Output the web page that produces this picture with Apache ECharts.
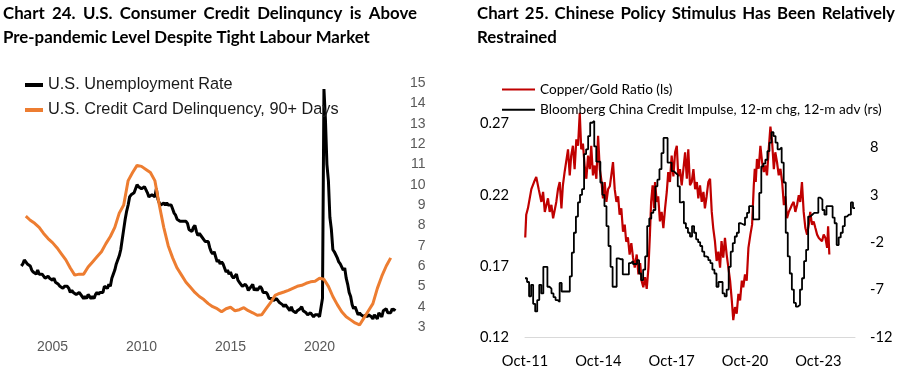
<!DOCTYPE html>
<html><head><meta charset="utf-8">
<script src="https://cdn.jsdelivr.net/npm/echarts@6/dist/echarts.min.js"></script>
<style>html,body{margin:0;padding:0;background:#fff}#c{width:907px;height:380px}</style>
</head><body><div id="c"></div>
<script>
// ---------- Chart 24 data ----------
const leftTitle1 = "Chart 24. U.S. Consumer Credit Delinquncy is Above";
const leftTitle2 = "Pre-pandemic Level Despite Tight Labour Market";
const leftNames = ["U.S. Unemployment Rate", "U.S. Credit Card Delinquency, 90+ Days"];
const leftXTicks = [2005, 2010, 2015, 2020];
// monthly, Apr-2003 .. Apr-2024
const unempStart = 2003.25;
const unemp = [
 6.0,6.1,6.3,6.2,6.1,6.1,6.0,5.8,5.7,
 5.7,5.6,5.8,5.6,5.6,5.6,5.5,5.4,5.4,5.5,5.4,5.4,
 5.3,5.4,5.2,5.2,5.1,5.0,5.0,4.9,5.0,5.0,5.0,4.9,
 4.7,4.8,4.7,4.7,4.6,4.6,4.7,4.7,4.5,4.4,4.5,4.4,
 4.6,4.5,4.4,4.5,4.4,4.6,4.7,4.6,4.7,4.7,4.7,5.0,
 5.0,4.9,5.1,5.0,5.4,5.6,5.8,6.1,6.1,6.5,6.8,7.3,
 7.8,8.3,8.7,9.0,9.4,9.5,9.5,9.6,9.8,10.0,9.9,9.9,
 9.8,9.8,9.9,9.9,9.6,9.4,9.4,9.5,9.5,9.4,9.8,9.3,
 9.1,9.0,9.0,9.1,9.0,9.1,9.0,9.0,9.0,8.8,8.6,8.5,
 8.3,8.3,8.2,8.2,8.2,8.2,8.2,8.1,7.8,7.8,7.7,7.9,
 8.0,7.7,7.5,7.6,7.5,7.5,7.3,7.2,7.2,7.2,6.9,6.7,
 6.6,6.7,6.7,6.2,6.3,6.1,6.2,6.1,5.9,5.7,5.8,5.6,
 5.7,5.5,5.4,5.4,5.6,5.3,5.2,5.1,5.0,5.0,5.1,5.0,
 4.8,4.9,5.0,5.1,4.8,4.9,4.8,4.9,5.0,4.9,4.7,4.7,
 4.7,4.6,4.4,4.4,4.4,4.3,4.3,4.4,4.3,4.2,4.2,4.1,
 4.0,4.1,4.0,4.0,3.8,4.0,3.8,3.8,3.7,3.8,3.8,3.9,
 4.0,3.8,3.8,3.7,3.6,3.6,3.7,3.6,3.5,3.6,3.6,3.6,
 3.5,3.5,4.4,14.7,13.2,11.0,10.2,8.4,7.8,6.8,6.7,6.7,
 6.4,6.2,6.1,6.1,5.8,5.9,5.4,5.1,4.7,4.5,4.1,3.9,
 4.0,3.8,3.6,3.7,3.6,3.6,3.5,3.6,3.5,3.6,3.6,3.5,
 3.4,3.6,3.5,3.4,3.7,3.6,3.5,3.8,3.8,3.9,3.7,3.7,
 3.7,3.9,3.8,3.9
];
// quarterly, 2003.5 .. 2024.0
const delinqStart = 2003.5;
const delinq = [
 8.45,8.25,8.1,7.9,7.6,7.35,7.15,6.9,6.6,6.3,5.9,5.55,5.6,5.6,5.95,6.2,6.45,6.7,7.1,7.45,
 7.9,8.6,9.0,10.2,10.6,10.95,10.9,10.75,10.6,10.2,9.0,7.9,7.0,6.4,5.9,5.55,5.2,4.95,4.7,4.5,
 4.35,4.15,4.0,3.9,3.75,3.9,3.97,3.8,3.85,3.95,3.8,3.7,3.58,3.6,3.9,4.2,4.55,4.65,4.72,4.8,
 4.9,5.0,5.05,5.15,5.22,5.25,5.4,5.35,5.0,4.5,4.1,3.75,3.5,3.35,3.2,3.1,3.45,3.8,4.15,4.9,
 5.5,6.0,6.4
];

// ---------- Chart 25 data ----------
const rightTitle1 = "Chart 25. Chinese Policy Stimulus Has Been Relatively";
const rightTitle2 = "Restrained";
const rightNames = ["Copper/Gold Ratio (ls)", "Bloomberg China Credit Impulse, 12-m chg, 12-m adv (rs)"];
const rightXTickDates = [2011.75, 2014.75, 2017.75, 2020.75, 2023.75];
const rightXTickLabels = ["Oct-11", "Oct-14", "Oct-17", "Oct-20", "Oct-23"];
const rightLeftTicks = [0.12, 0.17, 0.22, 0.27];
const rightRightTicks = [-12, -7, -2, 3, 8];
const redDates = [
 2011.76,2011.80,2011.87,2012.01,2012.12,2012.21,2012.31,2012.42,2012.49,2012.56,
 2012.69,2012.76,2012.83,2012.90,2013.03,2013.10,2013.17,2013.24,2013.30,2013.37,
 2013.51,2013.58,2013.64,2013.71,2013.78,2013.85,2013.92,2013.99,2014.05,2014.12,
 2014.19,2014.26,2014.33,2014.40,2014.46,2014.53,2014.60,2014.67,2014.74,2014.81,
 2014.87,2014.94,2015.01,2015.08,2015.15,2015.22,2015.28,2015.35,2015.42,2015.49,
 2015.56,2015.62,2015.69,2015.76,2015.83,2015.89,2015.96,2016.03,2016.10,2016.17,
 2016.24,2016.32,2016.39,2016.46,2016.52,2016.59,2016.66,2016.73,2016.80,2016.86,
 2016.91,2016.97,2017.03,2017.07,2017.14,2017.20,2017.27,2017.34,2017.41,2017.48,
 2017.55,2017.61,2017.68,2017.75,2017.82,2017.89,2017.96,2018.02,2018.09,2018.16,
 2018.23,2018.30,2018.37,2018.43,2018.50,2018.57,2018.64,2018.71,2018.78,2018.84,
 2018.91,2018.98,2019.05,2019.11,2019.18,2019.25,2019.32,2019.39,2019.45,2019.52,
 2019.59,2019.66,2019.73,2019.79,2019.86,2019.93,2020.00,2020.07,2020.14,2020.21,
 2020.27,2020.34,2020.41,2020.48,2020.55,2020.62,2020.68,2020.75,2020.82,2020.89,
 2020.97,2021.04,2021.11,2021.15,2021.19,2021.24,2021.31,2021.38,2021.45,2021.52,
 2021.58,2021.65,2021.72,2021.79,2021.86,2021.93,2021.99,2022.06,2022.13,2022.20,
 2022.27,2022.34,2022.40,2022.47,2022.54,2022.61,2022.67,2022.74,2022.81,2022.88,
 2022.95,2023.01,2023.08,2023.15,2023.22,2023.29,2023.36,2023.42,2023.49,2023.56,
 2023.63,2023.70,2023.77,2023.90,2023.97,2024.04,2024.11,2024.15,2024.20
];
const copperGold = [
 0.190,0.206,0.2105,0.224,0.229,0.2325,0.224,0.215,0.222,0.208,
 0.2175,0.208,0.213,0.2035,0.215,0.224,0.229,0.2105,0.2267,0.236,
 0.252,0.2337,0.2476,0.2545,0.238,0.259,0.2545,0.2776,0.252,0.256,
 0.2406,0.2313,0.2476,0.238,0.2545,0.2337,0.2406,0.2313,0.2615,0.238,
 0.231,0.2175,0.229,0.215,0.224,0.226,0.2337,0.243,0.224,0.215,
 0.219,0.206,0.2105,0.194,0.199,0.187,0.19,0.178,0.186,0.1758,
 0.1688,0.178,0.164,0.172,0.1596,0.155,0.162,0.1538,0.1688,0.192,
 0.215,0.2267,0.2105,0.229,0.215,0.219,0.2013,0.208,0.1966,0.2105,
 0.222,0.236,0.229,0.2476,0.233,0.2499,0.2545,0.233,0.238,0.2267,
 0.238,0.2499,0.2313,0.252,0.2267,0.229,0.238,0.224,0.229,0.2175,
 0.2267,0.215,0.222,0.2105,0.219,0.229,0.2313,0.208,0.1966,0.1874,
 0.1735,0.180,0.1688,0.1874,0.1758,0.1897,0.178,0.1688,0.1596,0.1457,
 0.1318,0.141,0.1364,0.1503,0.1457,0.1596,0.155,0.164,0.1596,0.1827,
 0.192,0.199,0.2267,0.2383,0.229,0.2452,0.2383,0.2545,0.2429,0.236,
 0.2406,0.2337,0.252,0.268,0.257,0.238,0.2499,0.2429,0.2337,0.2383,
 0.229,0.2128,0.219,0.2035,0.208,0.2105,0.213,0.215,0.208,0.2128,
 0.2198,0.215,0.229,0.208,0.1966,0.192,0.199,0.208,0.199,0.2013,
 0.1966,0.192,0.1897,0.1874,0.192,0.1897,0.1827,0.1978,0.178
];
// monthly from Oct-2011
const impulseStart = 2011.75;
const impulse = [
 -5.8,-6.2,-7.7,-6.5,-8.5,-9.3,-8.1,-6.5,-7.4,-4.6,-4.6,-6.7,
 -6.9,-7.4,-7.8,-8.1,-8.3,-6.3,-7.2,-7.2,-7.2,-7.2,-5.6,-3.1,
 -1.0,0.7,2.2,3.0,3.6,7.3,7.8,9.2,10.6,10.8,8.1,6.5,
 6.5,4.3,3.0,1.8,-0.3,-2.4,-4.6,-6.7,-6.7,-3.7,-3.8,-3.8,
 -5.4,-5.4,-5.4,-4.2,-4.0,-4.3,-4.3,-3.9,-5.3,-6.0,-4.9,-3.5,
 -0.3,0.5,1.1,1.4,3.9,4.6,5.7,7.4,9.0,9.0,6.4,6.4,
 5.5,5.3,5.1,3.9,2.2,2.3,0.0,-0.5,-1.0,-1.4,-0.3,-1.0,
 -1.7,-2.0,-2.4,-3.0,-3.5,-3.6,-3.9,-4.2,-4.9,-5.3,-6.7,-6.2,
 -6.2,-7.4,-7.7,-7.0,-4.6,-3.0,-2.1,-1.4,-1.0,0.0,-0.1,-0.2,
 0.6,1.1,1.8,1.8,0.4,0.4,0.4,3.2,6.0,6.3,6.7,7.6,
 8.5,9.6,9.2,8.5,7.8,8.0,6.4,4.3,-1.0,-3.5,-5.3,-7.0,
 -8.4,-8.8,-8.6,-7.0,-5.8,-4.0,-2.8,0.7,0.9,1.1,1.1,1.1,
 2.7,2.5,1.4,0.9,1.8,1.8,1.8,0.6,0.0,-2.3,-1.5,-1.0,
 -0.3,0.7,0.9,0.9,2.2,1.6,1.6
];

// ---------- helpers ----------
const mctx = document.createElement('canvas').getContext('2d');
function textW(t, font){ mctx.font = font; return mctx.measureText(t).width; }
function fit(t, weight, fam, target){ return 20 * target / textW(t, weight + ' 20px ' + fam); }
function justify(line, x0, x1, y, font){
  const words = line.split(' ');
  const ws = words.map(w => textW(w, font));
  const gap = (x1 - x0 - ws.reduce((a,b)=>a+b,0)) / (words.length - 1);
  let x = x0; const out = [];
  words.forEach((w,i) => { out.push({type:'text', x:x, y:y, silent:true,
    style:{text:w, font:font, fill:'#000', verticalAlign:'middle', textVerticalAlign:'middle'}}); x += ws[i] + gap; });
  return out;
}
function plain(t, x, y, font){ return {type:'text', x:x, y:y, silent:true, style:{text:t, font:font, fill:'#000', verticalAlign:'middle', textVerticalAlign:'middle'}}; }

const TF = "'Lato'";
const titleSize = fit(leftTitle2, 'bold', TF, 367);
const titleFont = 'bold ' + titleSize.toFixed(2) + 'px ' + TF;
const rLabSize = fit('0.27', 'normal', TF, 29);
const rLegSize = fit(rightNames[1], 'normal', TF, 342);

const graphics = [].concat(
  justify(leftTitle1, 3, 417, 14, titleFont),
  [plain(leftTitle2, 3, 38, titleFont)],
  justify(rightTitle1, 477, 895, 14, titleFont),
  [plain(rightTitle2, 477, 38, titleFont)]
);

const unempData = unemp.map((v,i) => [unempStart + i/12, v]);
const delinqData = delinq.map((v,i) => [delinqStart + i*0.25, v]);
const redData = redDates.map((d,i) => [d, copperGold[i]]);
const impData = impulse.map((v,i) => [impulseStart + i/12, v]);

const leftLab = {fontFamily:"'Liberation Sans', Arial", fontSize:14, color:'#595959'};
const rightLab = {fontFamily:TF, fontSize:rLabSize, color:'#000'};

const chart = echarts.init(document.getElementById('c'), null, {renderer:'canvas'});
chart.setOption({
  animation:false,
  backgroundColor:'#fff',
  graphic: graphics,
  legend:[
    {data:leftNames, left:20, top:70, orient:'vertical', icon:'rect', itemWidth:18, itemHeight:4, itemGap:5,
     selectedMode:false, textStyle:{fontFamily:"'Liberation Sans', Arial", fontSize:16.3, color:'#1a1a1a', lineHeight:20}},
    {data:rightNames, left:497, top:76.5, orient:'vertical', icon:'rect', itemWidth:33, itemHeight:2, itemGap:4.2,
     selectedMode:false, textStyle:{fontFamily:TF, fontSize:rLegSize, color:'#000', lineHeight:16}}
  ],
  grid:[
    {left:16.9, top:83, width:391.6, height:244},
    {left:525, top:109.5, width:330, height:227.5}
  ],
  xAxis:[
    {type:'value', gridIndex:0, min:2003, max:2025,
     axisLine:{show:false}, axisTick:{show:false}, splitLine:{show:false},
     axisLabel:Object.assign({customValues:leftXTicks, margin:13, formatter:v=>String(v)}, leftLab)},
    {type:'value', gridIndex:1, min:2011.75, max:2025.25,
     axisLine:{show:true, onZero:false, lineStyle:{color:'#d9d9d9', width:1}}, axisTick:{show:false}, splitLine:{show:false},
     axisLabel:Object.assign({customValues:rightXTickDates, margin:16.5,
       formatter:v=>{const k=rightXTickDates.findIndex(t=>Math.abs(t-v)<1e-6); return k>=0?rightXTickLabels[k]:'';}}, rightLab)}
  ],
  yAxis:[
    {type:'value', gridIndex:0, position:'right', min:3, max:15, interval:1,
     axisLine:{show:false}, axisTick:{show:false}, splitLine:{show:false},
     axisLabel:Object.assign({align:'right', margin:17}, leftLab)},
    {type:'value', gridIndex:1, position:'left', min:0.12, max:0.28,
     axisLine:{show:false}, axisTick:{show:false}, splitLine:{show:false},
     axisLabel:Object.assign({customValues:rightLeftTicks, margin:16, formatter:v=>v.toFixed(2)}, rightLab)},
    {type:'value', gridIndex:1, position:'right', min:-12, max:12,
     axisLine:{show:false}, axisTick:{show:false}, splitLine:{show:false},
     axisLabel:Object.assign({customValues:rightRightTicks, margin:15, formatter:v=>String(v)}, rightLab)}
  ],
  series:[
    {name:leftNames[0], type:'line', xAxisIndex:0, yAxisIndex:0, data:unempData, showSymbol:false,
     lineStyle:{color:'#000', width:3}, itemStyle:{color:'#000'}, z:2},
    {name:leftNames[1], type:'line', xAxisIndex:0, yAxisIndex:0, data:delinqData, showSymbol:false,
     lineStyle:{color:'#ED7D31', width:3}, itemStyle:{color:'#ED7D31'}, z:3},
    {name:rightNames[0], type:'line', xAxisIndex:1, yAxisIndex:1, data:redData, showSymbol:false,
     lineStyle:{color:'#C00000', width:2.2}, itemStyle:{color:'#C00000'}, z:2},
    {name:rightNames[1], type:'line', xAxisIndex:1, yAxisIndex:2, data:impData, showSymbol:false, step:'end',
     lineStyle:{color:'#000', width:1.8}, itemStyle:{color:'#000'}, z:3}
  ]
});
</script></body></html>
